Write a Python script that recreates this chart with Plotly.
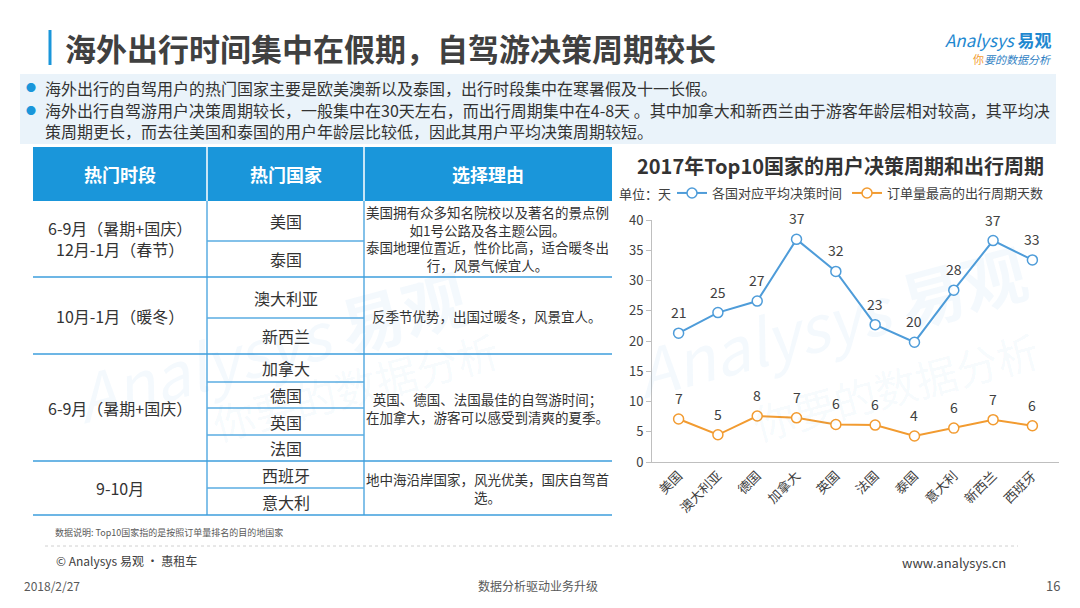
import plotly.graph_objects as go

# ---- chart data ----
countries = ["美国", "澳大利亚", "德国", "加拿大", "英国", "法国", "泰国", "意大利", "新西兰", "西班牙"]
decision_days = [21.3, 24.7, 26.6, 36.8, 31.5, 22.7, 19.8, 28.4, 36.6, 33.4]
decision_labels = ["21", "25", "27", "37", "32", "23", "20", "28", "37", "33"]
trip_days = [7.1, 4.5, 7.6, 7.3, 6.2, 6.1, 4.3, 5.6, 7.0, 6.0]
trip_labels = ["7", "5", "8", "7", "6", "6", "4", "6", "7", "6"]
y_ticks = [0, 5, 10, 15, 20, 25, 30, 35, 40]

# ---- table data ----
table_header = ["热门时段", "热门国家", "选择理由"]
periods = ["6-9月（暑期+国庆）<br>12月-1月（春节）", "10月-1月（暖冬）", "6-9月（暑期+国庆）", "9-10月"]
group_countries = [["美国", "泰国"], ["澳大利亚", "新西兰"], ["加拿大", "德国", "英国", "法国"], ["西班牙", "意大利"]]
reasons = [
    "美国拥有众多知名院校以及著名的景点例<br>如1号公路及各主题公园。<br>泰国地理位置近，性价比高，适合暖冬出<br>行，风景气候宜人。",
    "反季节优势，出国过暖冬，风景宜人。",
    "英国、德国、法国最佳的自驾游时间；<br>在加拿大，游客可以感受到清爽的夏季。",
    "地中海沿岸国家，风光优美，国庆自驾首<br>选。",
]
bullets = [
    "海外出行的自驾用户的热门国家主要是欧美澳新以及泰国，出行时段集中在寒暑假及十一长假。",
    "海外出行自驾游用户决策周期较长，一般集中在30天左右，而出行周期集中在4-8天 。其中加拿大和新西兰由于游客年龄层相对较高，其平均决"
    "<br>策周期更长，而去往美国和泰国的用户年龄层比较低，因此其用户平均决策周期较短。",
]

W, H = 1080, 608
OFF = 8  # the page body keeps its default 8px margin
FONT = "Microsoft YaHei, Noto Sans CJK SC, sans-serif"
BLUE = "#1A96DA"
LINE_BLUE = "#5AADE2"
DARK = "#404040"
C_DEC = "#4E9CD9"
C_TRIP = "#F29B30"
WM = "rgba(30,140,215,0.05)"


def X(px):
    return (px - OFF) / W


def Y(py):
    return 1 - (py - OFF) / H


fig = go.Figure()
fig.add_trace(go.Scatter(
    x=countries, y=decision_days, name="各国对应平均决策时间", mode="lines+markers",
    line=dict(color=C_DEC, width=2),
    marker=dict(size=10, color="white", line=dict(color=C_DEC, width=1.5)),
))
fig.add_trace(go.Scatter(
    x=countries, y=trip_days, name="订单量最高的出行周期天数", mode="lines+markers",
    line=dict(color=C_TRIP, width=2),
    marker=dict(size=10, color="white", line=dict(color=C_TRIP, width=1.5)),
))

shapes = []
ann = []

# data labels
for vals, labels in ((decision_days, decision_labels), (trip_days, trip_labels)):
    for c, v, t in zip(countries, vals, labels):
        ann.append(dict(xref="x", yref="y", x=c, y=v, text=t, yshift=21,
                        font=dict(size=14, color=DARK)))

# watermark (two faint copies)
for cx, cy, cx2, cy2 in ((270, 345, 355, 385), (830, 320, 895, 385)):
    ann.append(dict(x=X(cx), y=Y(cy), text="<i>Analysys</i> <b>易观</b>", textangle=-15,
                    font=dict(size=64, color=WM)))
    ann.append(dict(x=X(cx2), y=Y(cy2), text="你要的数据分析", textangle=-15,
                    font=dict(size=42, color=WM)))

# title bar + title
shapes.append(dict(type="line", xref="paper", yref="paper", x0=X(50), x1=X(50), y0=Y(30), y1=Y(65),
                   line=dict(color=BLUE, width=3)))
ann.append(dict(x=X(63), y=Y(48), text="<b>海外出行时间集中在假期，自驾游决策周期较长</b>",
                xanchor="left", font=dict(size=31, color=DARK)))

# logo
ann.append(dict(x=X(1054), y=Y(40), xanchor="right",
                text="<i>Analysys</i> <b>易观</b>", font=dict(size=17, color="#1E88D0")))
ann.append(dict(x=X(1054), y=Y(59), xanchor="right",
                text="<span style='color:#F29B30'>你</span><i>要的数据分析</i>",
                font=dict(size=11, color="#2F7FC4")))

# bullets band
shapes.append(dict(type="rect", xref="paper", yref="paper", x0=X(20), x1=X(1056), y0=Y(74), y1=Y(144),
                   fillcolor="#EAF3FA", line=dict(width=0), layer="below"))
for txt, py in zip(bullets, [88, 120]):
    ann.append(dict(x=X(31), y=Y(py if py < 100 else 110), text="●", font=dict(size=10, color=BLUE)))
    ann.append(dict(x=X(43), y=Y(py), text=txt, xanchor="left", align="left",
                    font=dict(size=16, color="#333333")))

# table
tl, c1, c2, tr = 33, 207, 364, 612
shapes.append(dict(type="rect", xref="paper", yref="paper", x0=X(tl), x1=X(tr), y0=Y(147), y1=Y(201),
                   fillcolor=BLUE, line=dict(width=0)))
for cx in (c1, c2):
    shapes.append(dict(type="line", xref="paper", yref="paper", x0=X(cx), x1=X(cx), y0=Y(147), y1=Y(201),
                       line=dict(color="white", width=1.5)))
    shapes.append(dict(type="line", xref="paper", yref="paper", x0=X(cx), x1=X(cx), y0=Y(201), y1=Y(515),
                       line=dict(color=LINE_BLUE, width=1.5)))
for txt, cx in zip(table_header, [(tl + c1) / 2, (c1 + c2) / 2, (c2 + tr) / 2]):
    ann.append(dict(x=X(cx), y=Y(174), text="<b>" + txt + "</b>", font=dict(size=18, color="white")))

group_edges = [201, 277, 354, 461, 515]
sub_edges = [[201, 241, 277], [277, 318, 354], [354, 382, 408, 435, 461], [461, 488, 515]]
for g in range(4):
    top, bot = group_edges[g], group_edges[g + 1]
    shapes.append(dict(type="line", xref="paper", yref="paper", x0=X(tl), x1=X(tr), y0=Y(bot), y1=Y(bot),
                       line=dict(color="#3C9EDD", width=1.5)))
    mid = (top + bot) / 2
    ann.append(dict(x=X((tl + c1) / 2), y=Y(mid), text=periods[g], font=dict(size=16, color="#333333")))
    ann.append(dict(x=X((c2 + tr) / 2 - 1), y=Y(mid), text=reasons[g], font=dict(size=13.5, color="#333333")))
    edges = sub_edges[g]
    for k, name in enumerate(group_countries[g]):
        ann.append(dict(x=X((c1 + c2) / 2), y=Y((edges[k] + edges[k + 1]) / 2), text=name,
                        font=dict(size=16, color="#333333")))
        if k > 0:
            shapes.append(dict(type="line", xref="paper", yref="paper", x0=X(c1), x1=X(c2),
                               y0=Y(edges[k]), y1=Y(edges[k]), line=dict(color=LINE_BLUE, width=1.5)))

# chart title and unit
ann.append(dict(x=X(840), y=Y(165), text="<b>2017年Top10国家的用户决策周期和出行周期</b>",
                font=dict(size=20, color="#333333")))
ann.append(dict(x=X(617), y=Y(193), text="单位：天", xanchor="left", font=dict(size=13, color=DARK)))

# footer
ann.append(dict(x=X(53), y=Y(532), text="数据说明: Top10国家指的是按照订单量排名的目的地国家",
                xanchor="left", font=dict(size=9, color="#595959")))
shapes.append(dict(type="line", xref="paper", yref="paper", x0=X(45), x1=X(1018), y0=Y(546), y1=Y(546),
                   line=dict(color="#D0D0D0", width=1, dash="dot")))
ann.append(dict(x=X(54), y=Y(560), text="© Analysys 易观 · 惠租车", xanchor="left",
                font=dict(size=12, color=DARK)))
ann.append(dict(x=X(1008), y=Y(562), text="www.analysys.cn", xanchor="right",
                font=dict(size=13, color=DARK)))
ann.append(dict(x=X(22), y=Y(585), text="2018/2/27", xanchor="left", font=dict(size=12, color="#595959")))
ann.append(dict(x=X(538), y=Y(585), text="数据分析驱动业务升级", font=dict(size=12, color="#595959")))
ann.append(dict(x=X(1053), y=Y(585), text="16", font=dict(size=13, color="#595959")))

for a in ann:
    a.setdefault("xref", "paper")
    a.setdefault("yref", "paper")
    a.setdefault("showarrow", False)
    a.setdefault("xanchor", "center")
    a.setdefault("yanchor", "middle")

fig.update_layout(
    width=W, height=H,
    margin=dict(l=0, r=0, t=0, b=0, autoexpand=False),
    paper_bgcolor="white", plot_bgcolor="rgba(0,0,0,0)",
    font=dict(family=FONT, color=DARK),
    shapes=shapes, annotations=ann,
    showlegend=True,
    legend=dict(orientation="h", x=X(672), y=Y(193), xanchor="left", yanchor="middle",
                font=dict(size=13, color=DARK), bgcolor="rgba(0,0,0,0)", itemwidth=30,
                tracegroupgap=0),
    xaxis=dict(domain=[X(652), X(1059)], showgrid=False, showline=True, linecolor="#BFBFBF",
               linewidth=1, tickangle=-45, tickfont=dict(size=13, color=DARK), ticks="", zeroline=False,
               fixedrange=True, automargin=False),
    yaxis=dict(domain=[Y(462), Y(220)], range=[0, 40], tickvals=y_ticks, showgrid=False,
               showline=True, linecolor="#BFBFBF", linewidth=1, ticks="outside", ticklen=5,
               tickcolor="#BFBFBF", tickfont=dict(size=13, color=DARK), zeroline=False, fixedrange=True,
               automargin=False),
)

fig.write_html("out.html", config={"displayModeBar": False})
